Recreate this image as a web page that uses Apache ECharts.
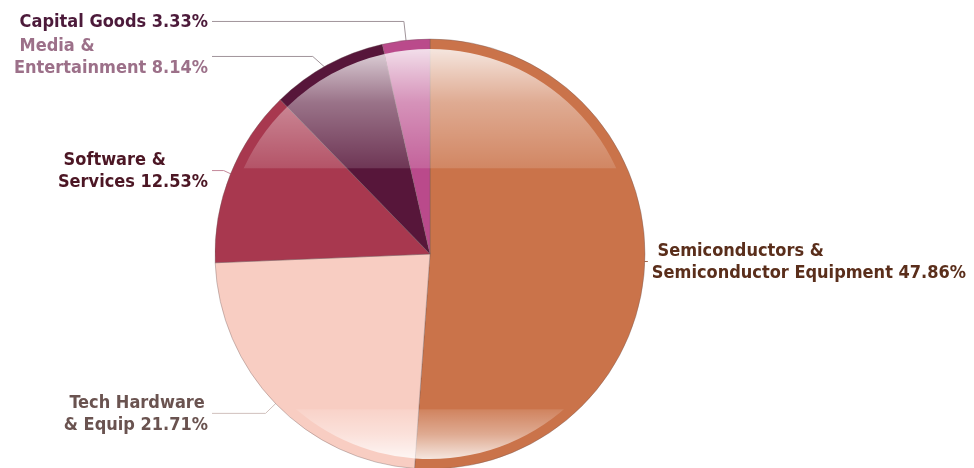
<!DOCTYPE html>
<html><head><meta charset="utf-8">
<script src="https://cdn.jsdelivr.net/npm/echarts@6/dist/echarts.min.js"></script>
<style>html,body{margin:0;padding:0;background:#fff;}#c{width:974px;height:468px;}</style>
</head><body><div id="c"></div>
<script>
// ---- data ----
const categories = ['Semiconductors &\nSemiconductor Equipment', 'Tech Hardware\n& Equip', 'Software &\nServices', 'Media &\nEntertainment', 'Capital Goods'];
const shares = [47.86, 21.71, 12.53, 8.14, 3.33];

// ---- styles ----
const sliceColors = ['#CA734A', '#F8CDC2', '#A8384F', '#57163A', '#BA4A8B'];
const labelColors = ['#5A2E1B', '#6A5350', '#4C1624', '#9C7089', '#4C1A3A'];
const lineColors = ['#A06A50', '#D0C0BC', '#C4899A', '#A0949A', '#A0949A'];
const lineLengths = [[3, 10], [24, 9], [20, 9], [20, 9], [29, 9]];

const CX = 430, CY = 254, R = 215, RI = 205;
const LEFT_EDGE = CX - R - 7;
const chart = echarts.init(document.getElementById('c'));

const gloss = new echarts.graphic.LinearGradient(0, CY - RI, 0, CY + RI, [
  { offset: 0, color: 'rgba(255,255,255,0.82)' },
  { offset: 0.06, color: 'rgba(255,255,255,0.62)' },
  { offset: 0.13, color: 'rgba(255,255,255,0.40)' },
  { offset: 0.29, color: 'rgba(255,255,255,0.14)' },
  { offset: 0.292, color: 'rgba(255,255,255,0)' },
  { offset: 0.878, color: 'rgba(255,255,255,0)' },
  { offset: 0.88, color: 'rgba(255,255,255,0.12)' },
  { offset: 0.94, color: 'rgba(255,255,255,0.40)' },
  { offset: 1, color: 'rgba(255,255,255,0.82)' }
], true);

const baseData = categories.map((n, i) => ({ name: n, value: shares[i], itemStyle: { color: sliceColors[i] } }));
const labelData = categories.map((n, i) => ({
  name: n, value: shares[i],
  itemStyle: { color: gloss },
  label: { color: labelColors[i] },
  labelLine: { length: lineLengths[i][0], length2: lineLengths[i][1], lineStyle: { color: lineColors[i] } }
}));

chart.setOption({
  animation: false,
  series: [
    {
      type: 'pie', center: [CX, CY], radius: R, silent: true,
      startAngle: 90, clockwise: true,
      data: baseData,
      label: { show: false }, labelLine: { show: false },
      itemStyle: { borderColor: 'rgba(110,90,90,0.45)', borderWidth: 0.8 }
    },
    {
      type: 'pie', center: [CX, CY], radius: RI, silent: true,
      startAngle: 90, clockwise: true,
      data: labelData,
      itemStyle: { borderWidth: 0 },
      label: {
        show: true, position: 'outside', alignTo: 'none',
        bleedMargin: 0, overflow: 'none', distanceToLabelLine: 4,
        fontFamily: 'DejaVu Sans Condensed', fontWeight: 'bold', fontSize: 18, lineHeight: 22,
        formatter: p => (p.name.indexOf('\n') >= 0 ? ' ' : '') + p.name + ' ' + p.value.toFixed(2) + '%'
      },
      labelLine: { show: true, smooth: false, lineStyle: { width: 1 } },
      labelLayout: function (params) {
        const pts = params.labelLinePoints.map(p => p.slice());
        if (pts[0][0] >= CX) return { y: pts[1][1] + 1, labelLinePoints: pts };
        pts[2] = [LEFT_EDGE + 4, pts[1][1]];
        return {
          x: LEFT_EDGE - params.labelRect.width, y: pts[1][1] + 1,
          align: 'left', verticalAlign: 'middle', labelLinePoints: pts
        };
      }
    }
  ]
});
</script></body></html>
